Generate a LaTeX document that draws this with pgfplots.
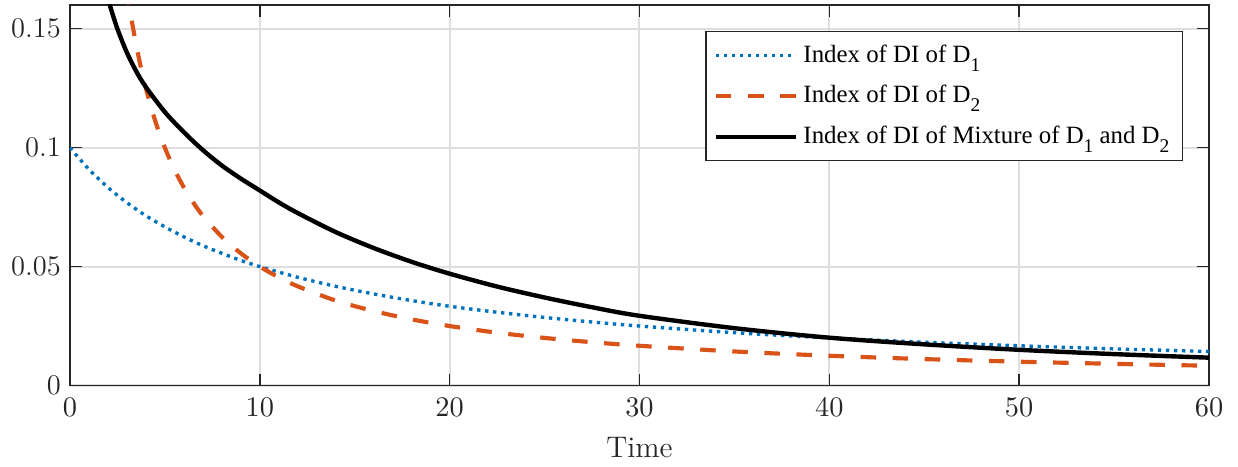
\documentclass[border=0pt]{standalone}
\usepackage{fontspec}
\newfontfamily\timesfont{Liberation Serif}
\usepackage{pgfplots}
\pgfplotsset{compat=1.18}

\definecolor{mblue}{rgb}{0,0.447,0.741}
\definecolor{morange}{rgb}{0.85,0.325,0.098}
\definecolor{axgray}{rgb}{0.15,0.15,0.15}
\definecolor{gridgray}{rgb}{0.87,0.87,0.87}

\newcommand{\sub}[1]{\raisebox{-0.8ex}{\fontsize{7.5}{8}\selectfont #1}}

\begin{document}
\begin{tikzpicture}
\begin{axis}[
    scale only axis,
    width=440pt, height=147pt,
    xmin=0, xmax=60,
    ymin=0, ymax=0.16,
    xtick={0,10,...,60},
    ytick={0,0.05,0.1,0.15},
    yticklabels={0,0.05,0.1,0.15},
    tick align=inside,
    major tick length=4.5pt,
    axis line style={axgray, line width=0.6pt},
    every tick/.style={axgray, line width=0.6pt},
    ticklabel style={text=axgray, font=\fontsize{11}{13}\selectfont},
    xticklabel style={yshift=-1.5pt},
    grid=major,
    major grid style={gridgray, line width=0.8pt},
    xlabel={Time},
    xlabel style={text=axgray, font=\fontsize{11.5}{13}\selectfont, yshift=-1pt},
    legend style={
        at={(1,1)}, anchor=north east,
        xshift=-10pt, yshift=-10pt,
        draw=axgray, line width=0.6pt,
        font=\timesfont\fontsize{9.6}{11}\selectfont,
        cells={anchor=west},
        row sep=3.5pt,
        inner xsep=3pt, inner ysep=3pt,
    },
    legend image code/.code={\draw[#1] (0pt,0pt) -- (31pt,0pt);},
]

\addplot[mblue, smooth, line width=1.3pt, dash pattern=on 1.3pt off 1.8pt] coordinates {
    (0,0.1) (1,0.0909) (2,0.0833) (3,0.0769) (4,0.0714) (5,0.0667)
    (6,0.0625) (7,0.0588) (8,0.0556) (9,0.0526) (10,0.05) (12,0.0455)
    (14,0.0417) (16,0.0385) (18,0.0357) (20,0.0333) (22.5,0.0308)
    (25,0.0286) (27.5,0.0267) (30,0.025) (35,0.0222) (40,0.02)
    (45,0.0182) (50,0.0167) (55,0.0154) (60,0.0143)
};
\addlegendentry{Index of DI of D\sub{1}}

\addplot[morange, smooth, line width=1.6pt, dash pattern=on 6pt off 6.4pt] coordinates {
    (3,0.1667) (3.25,0.1538) (3.5,0.1429) (3.75,0.1333) (4,0.125)
    (4.5,0.1111) (5,0.1) (5.5,0.0909) (6,0.0833) (6.5,0.0769) (7,0.0714)
    (8,0.0625) (9,0.0556) (10,0.05) (11,0.0455) (12,0.0417) (14,0.0357)
    (16,0.0313) (18,0.0278) (20,0.025) (22.5,0.0222) (25,0.02)
    (27.5,0.0182) (30,0.0167) (35,0.0143) (40,0.0125) (45,0.0111)
    (50,0.01) (55,0.0091) (60,0.0083)
};
\addlegendentry{Index of DI of D\sub{2}}

\addplot[black, smooth, line width=1.7pt] coordinates {
    (2,0.1635) (2.1,0.160) (2.5,0.150) (3,0.140) (3.5,0.132) (4,0.1255)
    (5,0.1150) (6,0.1065) (7,0.0990) (8,0.0925) (9,0.0870) (10,0.0820)
    (11,0.0770) (12,0.0725) (14,0.0645) (16,0.0578) (18,0.0520) (20,0.0470)
    (22.5,0.0416) (25,0.0370) (27.5,0.0329) (30,0.0293) (35,0.0241)
    (40,0.0201) (45,0.0173) (50,0.0150) (55,0.0132) (60,0.0117)
};
\addlegendentry{Index of DI of Mixture of D\sub{1} and D\sub{2}}

\end{axis}
\path (current axis.south west) ++(-27pt,-31.3pt) coordinate (bbA);
\path (current axis.north east) ++(11.2pt,1.9pt) coordinate (bbB);
\path[use as bounding box] (bbA) rectangle (bbB);
\end{tikzpicture}
\end{document}
